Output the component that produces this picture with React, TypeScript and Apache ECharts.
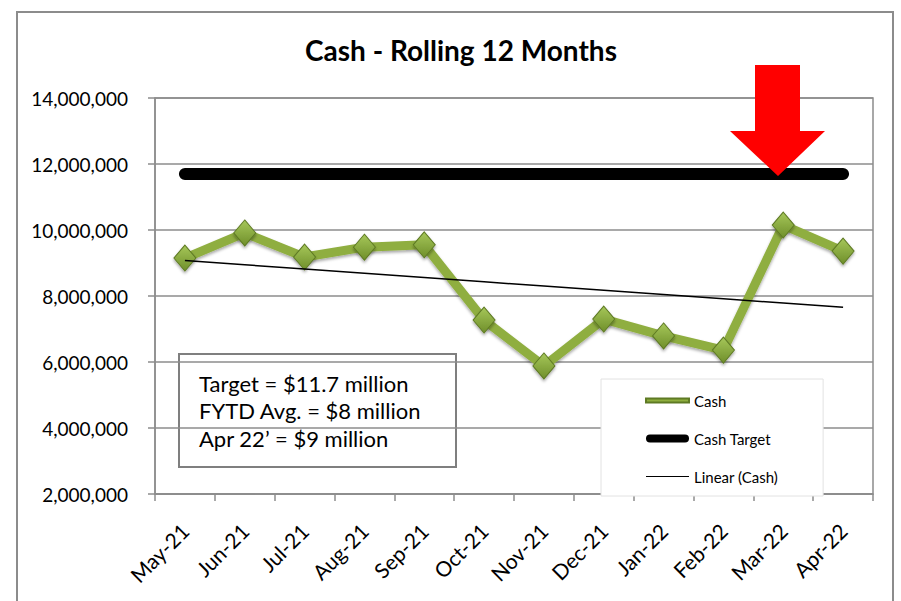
import React, { useEffect, useRef } from "react";
import * as echarts from "echarts";

const categories = ["May-21", "Jun-21", "Jul-21", "Aug-21", "Sep-21", "Oct-21", "Nov-21", "Dec-21", "Jan-22", "Feb-22", "Mar-22", "Apr-22"];
const cashValues = [9150000, 9910000, 9180000, 9480000, 9550000, 7270000, 5880000, 7300000, 6790000, 6360000, 10150000, 9360000];
const targetValues = [11700000, 11700000, 11700000, 11700000, 11700000, 11700000, 11700000, 11700000, 11700000, 11700000, 11700000, 11700000];
const yTicks = { min: 2000000, max: 14000000, interval: 2000000 };
const noteLines = ["Target = $11.7 million", "FYTD Avg. = $8 million", "Apr 22\u2019 = $9 million"];

function linearTrend(values: number[]): number[] {
  const n = values.length;
  const xs = values.map((_, i) => i + 1);
  const mx = xs.reduce((a, b) => a + b, 0) / n;
  const my = values.reduce((a, b) => a + b, 0) / n;
  let sxy = 0, sxx = 0;
  for (let i = 0; i < n; i++) {
    sxy += (xs[i] - mx) * (values[i] - my);
    sxx += (xs[i] - mx) * (xs[i] - mx);
  }
  const slope = sxy / sxx;
  return xs.map((x) => my + slope * (x - mx));
}

const FONT = "Lato, 'Open Sans', sans-serif";

export default function App() {
  const ref = useRef<HTMLDivElement>(null);
  useEffect(() => {
    if (!ref.current) return;
    const chart = echarts.init(ref.current, undefined, { renderer: "svg" });
    const trend = linearTrend(cashValues);
    chart.setOption({
      animation: false,
      backgroundColor: "#ffffff",
      textStyle: { fontFamily: FONT },
      title: {
        text: "Cash - Rolling 12 Months",
        left: 305,
        top: 36,
        textStyle: { fontSize: 28, fontWeight: "bold", color: "#000", fontFamily: FONT },
        padding: 0,
      },
      grid: {
        left: 155,
        right: 28,
        top: 98,
        bottom: 107,
        show: true,
        borderColor: "#8c8c8c",
        borderWidth: 1.5,
        backgroundColor: "transparent",
      },
      legend: {
        orient: "vertical",
        left: 601,
        top: 379,
        padding: [14, 45, 12, 44],
        itemGap: 23,
        itemWidth: 43,
        itemHeight: 14,
        backgroundColor: "#ffffff",
        borderColor: "#e2e2e2",
        borderWidth: 1,
        textStyle: { fontSize: 15, color: "#000", fontFamily: FONT },
        data: [
          { name: "Cash", icon: "path://M0,5 L43,5 L43,9 L0,9 Z", itemStyle: { color: "#8fae3f" } },
          { name: "Cash Target", icon: "path://M4,3 L39,3 A4,4 0 0 1 39,11 L4,11 A4,4 0 0 1 4,3 Z", itemStyle: { color: "#000" } },
          { name: "Linear (Cash)", icon: "path://M4,6.5 L39,6.5 L39,7.5 L4,7.5 Z", itemStyle: { color: "#000" } },
        ],
      },
      xAxis: {
        type: "category",
        data: categories,
        boundaryGap: true,
        axisLine: { show: true, lineStyle: { color: "#8c8c8c", width: 1.5 } },
        axisTick: { show: true, length: 7, lineStyle: { color: "#8c8c8c", width: 1.5 } },
        axisLabel: { rotate: 45, fontSize: 21, color: "#000", margin: 33, fontFamily: FONT },
      },
      yAxis: {
        type: "value",
        min: yTicks.min,
        max: yTicks.max,
        interval: yTicks.interval,
        axisLine: { show: true, lineStyle: { color: "#8c8c8c", width: 1.5 } },
        axisTick: { show: true, length: 7, lineStyle: { color: "#8c8c8c", width: 1.5 } },
        splitLine: { show: true, lineStyle: { color: "#8c8c8c", width: 1.5 } },
        axisLabel: {
          fontSize: 19,
          color: "#000",
          margin: 27,
          fontFamily: FONT,
          formatter: (v: number) => v.toLocaleString("en-US"),
        },
      },
      series: [
        {
          name: "Cash Target",
          type: "line",
          data: targetValues,
          symbol: "none",
          lineStyle: { color: "#000", width: 12, cap: "round" },
          z: 2,
        },
        {
          name: "Cash",
          type: "line",
          data: cashValues,
          symbol: "diamond",
          symbolSize: [22, 26],
          lineStyle: {
            color: "#8fae3f",
            width: 9,
            shadowColor: "rgba(0,0,0,0.35)",
            shadowBlur: 3,
            shadowOffsetY: 2,
          },
          itemStyle: {
            color: new echarts.graphic.LinearGradient(0, 0, 0, 1, [
              { offset: 0, color: "#a6c75a" },
              { offset: 1, color: "#6f8f2a" },
            ]),
            borderColor: "#5e7a24",
            borderWidth: 1,
            shadowColor: "rgba(0,0,0,0.35)",
            shadowBlur: 3,
            shadowOffsetY: 2,
          },
          z: 3,
        },
        {
          name: "Linear (Cash)",
          type: "line",
          data: trend,
          symbol: "none",
          lineStyle: { color: "#000", width: 1.5 },
          z: 4,
        },
      ],
      graphic: [
        {
          type: "rect",
          shape: { x: 17, y: 12, width: 876, height: 610 },
          style: { fill: "none", stroke: "#8c8c8c", lineWidth: 2 },
          z: -1,
          silent: true,
        },
        {
          type: "polygon",
          shape: {
            points: [
              [755, 65], [800, 65], [800, 131], [825, 131], [778, 176], [730, 131], [755, 131],
            ],
          },
          style: { fill: "#ff0000" },
          z: 10,
        },
        {
          type: "group",
          left: 178,
          top: 353,
          z: 10,
          children: [
            {
              type: "rect",
              shape: { x: 0, y: 0, width: 277, height: 113 },
              style: { fill: "#fff", stroke: "#7f7f7f", lineWidth: 2 },
            },
            ...noteLines.map((t, i) => ({
              type: "text",
              x: 20,
              y: 29 + i * 27.5,
              style: {
                text: t,
                fontSize: 22,
                fontFamily: FONT,
                fill: "#000",
                verticalAlign: "middle",
              },
            })),
          ],
        },
      ],
    });
    return () => chart.dispose();
  }, []);
  return <div ref={ref} style={{ width: 901, height: 601, position: "absolute", left: 0, top: 0 }} />;
}
